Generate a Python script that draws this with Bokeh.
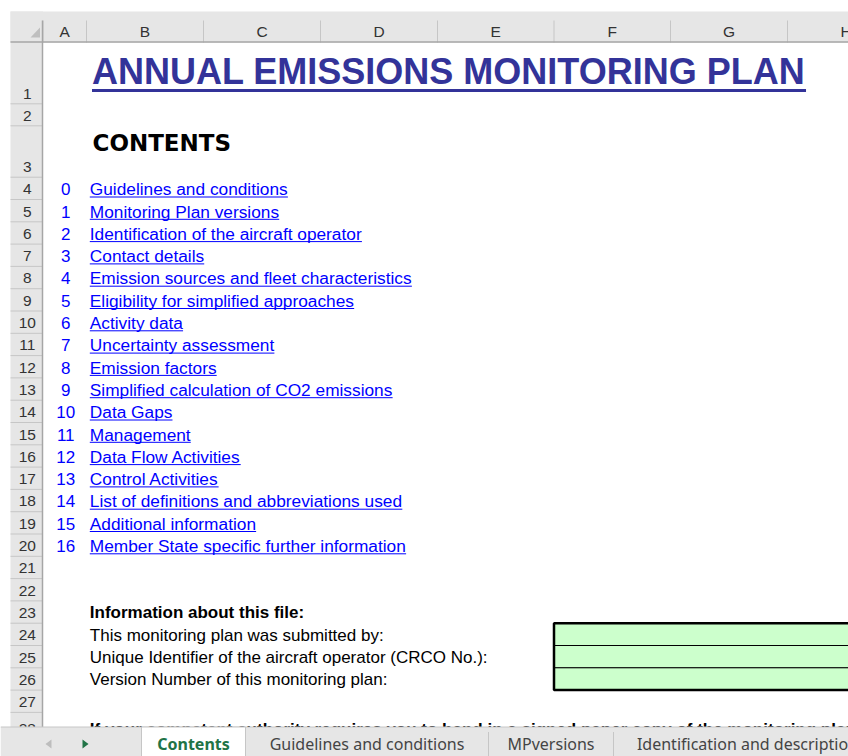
import math
from bokeh.plotting import figure
from bokeh.models import Range1d
from bokeh.embed import file_html
from bokeh.resources import INLINE
from bokeh.core.properties import value

# ---------------- data (sheet content) ----------------
sheet_title = "ANNUAL EMISSIONS MONITORING PLAN"
contents_heading = "CONTENTS"
column_letters = ["A", "B", "C", "D", "E", "F", "G", "H"]
row_numbers = [1, 2, 3, 4, 5, 6, 7, 8, 9, 10, 11, 12, 13, 14,
               15, 16, 17, 18, 19, 20, 21, 22, 23, 24, 25, 26, 27, 28]
section_numbers = ["0", "1", "2", "3", "4", "5", "6", "7", "8",
                   "9", "10", "11", "12", "13", "14", "15", "16"]
section_titles = [
    "Guidelines and conditions",
    "Monitoring Plan versions",
    "Identification of the aircraft operator",
    "Contact details",
    "Emission sources and fleet characteristics",
    "Eligibility for simplified approaches",
    "Activity data",
    "Uncertainty assessment",
    "Emission factors",
    "Simplified calculation of CO2 emissions",
    "Data Gaps",
    "Management",
    "Data Flow Activities",
    "Control Activities",
    "List of definitions and abbreviations used",
    "Additional information",
    "Member State specific further information",
]
info_heading = "Information about this file:"
info_labels = [
    "This monitoring plan was submitted by:",
    "Unique Identifier of the aircraft operator (CRCO No.):",
    "Version Number of this monitoring plan:",
]
signature_note = ("If your competent authority requires you to hand in a signed paper copy "
                  "of the monitoring plan, please use the space below for signature:")
sheet_tabs = ["Contents", "Guidelines and conditions", "MPversions", "Identification and description"]
active_tab = 0

# sheet rows where each block lives
TITLE_ROW = 1
CONTENTS_ROW = 3
FIRST_SECTION_ROW = 4
INFO_HEADING_ROW = 23
INFO_FIRST_ROW = 24
SIGNATURE_ROW = 28
INPUT_COLUMN = 5  # column F (0-based)

# ---------------- layout / style (screen-like units, measured from top-left) ----------------
FIG_W, FIG_H = 848, 756
HDR_LEFT = 10.0
HDR_TOP = 11.0
ROWHDR_RIGHT = 42.5
COLHDR_BOTTOM = 42.0
TAB_TOP = 726.5
col_widths = [43.5, 117, 117, 117, 116.5, 116.5, 117, 117]
row_heights = [61.3, 22.0, 51.4] + [22.3] * 24 + [27.0]
tab_edges = [141, 245, 488, 613, 881]

col_edges = [ROWHDR_RIGHT]
for w in col_widths:
    col_edges.append(col_edges[-1] + w)
row_edges = [COLHDR_BOTTOM]
for h in row_heights:
    row_edges.append(row_edges[-1] + h)


def Y(v):
    """convert a top-down layout coordinate into the plot's upward data coordinate"""
    return FIG_H - v


def Ys(vs):
    return [Y(v) for v in vs]


def row_bottom(r):
    return row_edges[r]


def row_top(r):
    return row_edges[r - 1]


def cell_mid(r):
    # vertical centre of bottom-aligned 17px cell text
    return row_bottom(r) - 10.3


FONT = value("Liberation Sans")
HDR_BG = "#e6e6e6"
HDR_LINE = "#c6c6c6"
HDR_BORDER = "#a6a6a6"
HDR_TEXT = "#333333"
LINK = "#0000ff"
TITLE_COLOR = "#333399"

ARIAL = {' ': 278, '(': 333, ')': 333, '.': 278, ':': 278, ',': 278,
         'A': 667, 'B': 667, 'C': 722, 'D': 722, 'E': 667, 'F': 611, 'G': 778, 'H': 722,
         'I': 278, 'J': 500, 'K': 667, 'L': 556, 'M': 833, 'N': 722, 'O': 778, 'P': 667,
         'Q': 778, 'R': 722, 'S': 667, 'T': 611, 'U': 722, 'V': 667, 'W': 944, 'X': 667,
         'Y': 667, 'Z': 611,
         'a': 556, 'b': 556, 'c': 500, 'd': 556, 'e': 556, 'f': 278, 'g': 556, 'h': 556,
         'i': 222, 'j': 222, 'k': 500, 'l': 222, 'm': 833, 'n': 556, 'o': 556, 'p': 556,
         'q': 556, 'r': 333, 's': 500, 't': 278, 'u': 556, 'v': 500, 'w': 722, 'x': 500,
         'y': 500, 'z': 500}
ARIAL_BOLD = {' ': 278, 'A': 722, 'B': 722, 'C': 722, 'D': 722, 'E': 667, 'F': 611,
              'G': 778, 'H': 722, 'I': 278, 'J': 556, 'K': 722, 'L': 611, 'M': 833,
              'N': 722, 'O': 778, 'P': 667, 'Q': 778, 'R': 722, 'S': 667, 'T': 611,
              'U': 722, 'V': 667, 'W': 944, 'X': 667, 'Y': 667, 'Z': 611}


def text_width(s, size, bold=False):
    table = ARIAL_BOLD if bold else ARIAL
    return sum(table.get(ch, 556) for ch in s) / 1000.0 * size


p = figure(width=FIG_W, height=FIG_H, output_backend="svg", toolbar_location=None,
           x_range=Range1d(0, FIG_W), y_range=Range1d(0, FIG_H),
           min_border=0, outline_line_color=None, background_fill_color="white",
           border_fill_color="white")
p.axis.visible = False
p.grid.visible = False

RIGHT_END = 960
BOTTOM_END = 800

# ---------------- headers ----------------
p.quad(left=[HDR_LEFT], right=[RIGHT_END], top=[Y(HDR_TOP)], bottom=[Y(COLHDR_BOTTOM)],
       fill_color=HDR_BG, line_color=None)
p.quad(left=[HDR_LEFT], right=[ROWHDR_RIGHT], top=[Y(HDR_TOP)], bottom=[Y(BOTTOM_END)],
       fill_color=HDR_BG, line_color=None)

# column header separators and letters
n_cols = len(column_letters)
p.segment(x0=col_edges[:-1], y0=[Y(20)] * n_cols, x1=col_edges[:-1],
          y1=[Y(COLHDR_BOTTOM)] * n_cols, line_color=HDR_LINE, line_width=1)
col_centers = [(col_edges[i] + col_edges[i + 1]) / 2 for i in range(n_cols)]
p.text(x=col_centers, y=[Y(31.3)] * n_cols, text=column_letters,
       text_font=FONT, text_font_size="15.5px", text_color=HDR_TEXT,
       text_align="center", text_baseline="middle")

# row header separators and numbers
n_rows = len(row_numbers)
p.segment(x0=[HDR_LEFT] * n_rows, y0=Ys([row_bottom(r) for r in row_numbers]),
          x1=[ROWHDR_RIGHT] * n_rows, y1=Ys([row_bottom(r) for r in row_numbers]),
          line_color=HDR_LINE, line_width=1)
p.text(x=[(HDR_LEFT + ROWHDR_RIGHT) / 2 + 0.5] * n_rows,
       y=Ys([row_bottom(r) - 10.3 for r in row_numbers]),
       text=[str(r) for r in row_numbers],
       text_font=FONT, text_font_size="15.5px", text_color=HDR_TEXT,
       text_align="center", text_baseline="middle")

# header borders
p.segment(x0=[HDR_LEFT], y0=[Y(COLHDR_BOTTOM - 0.5)], x1=[RIGHT_END], y1=[Y(COLHDR_BOTTOM - 0.5)],
          line_color=HDR_BORDER, line_width=1.5)
p.segment(x0=[ROWHDR_RIGHT - 0.5], y0=[Y(20)], x1=[ROWHDR_RIGHT - 0.5], y1=[Y(BOTTOM_END)],
          line_color=HDR_BORDER, line_width=1.5)
# select-all corner triangle
p.patch(x=[39.5, 39.5, 30.0], y=Ys([27.0, 37.0, 37.0]), fill_color="#bfbfbf", line_color=None)

# ---------------- title ----------------
text_x = col_edges[1] + 3.3
title_size = 36
title_x = col_edges[1] + 5.5
title_mid = row_bottom(TITLE_ROW) - 32.3
p.text(x=[title_x], y=[Y(title_mid)], text=[sheet_title], text_font=FONT,
       text_font_size=f"{title_size}px", text_font_style="bold", text_color=TITLE_COLOR,
       text_baseline="middle")
tw = text_width(sheet_title, title_size, bold=True)
title_line_y = row_bottom(TITLE_ROW) - 13.3
p.segment(x0=[title_x], y0=[Y(title_line_y)], x1=[title_x + tw], y1=[Y(title_line_y)],
          line_color=TITLE_COLOR, line_width=3)

p.text(x=[col_edges[1] + 6], y=[Y(row_bottom(CONTENTS_ROW) - 34.2)], text=[contents_heading],
       text_font=value("DejaVu Sans"), text_font_size="23px", text_font_style="bold",
       text_color="black", text_baseline="middle")

# ---------------- contents list ----------------
LINK_SIZE = 17
sec_rows = [FIRST_SECTION_ROW + i for i in range(len(section_titles))]
sec_mid = [cell_mid(r) for r in sec_rows]
p.text(x=[col_centers[0] + 1] * len(section_numbers), y=Ys(sec_mid), text=section_numbers,
       text_font=FONT, text_font_size=f"{LINK_SIZE}px", text_color=LINK,
       text_align="center", text_baseline="middle")
p.text(x=[text_x] * len(section_titles), y=Ys(sec_mid), text=section_titles,
       text_font=FONT, text_font_size="17.3px", text_color=LINK,
       text_align="left", text_baseline="middle")
ul_y = [row_bottom(r) - 2.5 for r in sec_rows]
p.segment(x0=[text_x] * len(section_titles), y0=Ys(ul_y),
          x1=[text_x + text_width(s, 17.3) for s in section_titles],
          y1=Ys(ul_y), line_color=LINK, line_width=1)

# ---------------- information block ----------------
p.text(x=[text_x], y=[Y(cell_mid(INFO_HEADING_ROW))], text=[info_heading],
       text_font=FONT, text_font_size=f"{LINK_SIZE}px", text_font_style="bold",
       text_color="black", text_baseline="middle")
info_rows = [INFO_FIRST_ROW + i for i in range(len(info_labels))]
p.text(x=[text_x] * len(info_labels), y=Ys([cell_mid(r) for r in info_rows]),
       text=info_labels, text_font=FONT, text_font_size=f"{LINK_SIZE}px",
       text_color="black", text_baseline="middle")
p.quad(left=[col_edges[INPUT_COLUMN]] * len(info_rows), right=[RIGHT_END] * len(info_rows),
       top=Ys([row_top(r) for r in info_rows]), bottom=Ys([row_bottom(r) for r in info_rows]),
       fill_color="#ccffcc", line_color="black", line_width=1)
p.quad(left=[col_edges[INPUT_COLUMN]], right=[RIGHT_END], top=[Y(row_top(info_rows[0]))],
       bottom=[Y(row_bottom(info_rows[-1]))], fill_color=None, line_color="black", line_width=2.5)

p.text(x=[text_x], y=[Y(cell_mid(SIGNATURE_ROW))], text=[signature_note],
       text_font=FONT, text_font_size=f"{LINK_SIZE}px", text_font_style="bold",
       text_color="black", text_baseline="middle")

# ---------------- sheet tab bar ----------------
p.quad(left=[0], right=[RIGHT_END], top=[Y(TAB_TOP)], bottom=[Y(BOTTOM_END)],
       fill_color=HDR_BG, line_color=None)
p.segment(x0=[0], y0=[Y(TAB_TOP)], x1=[RIGHT_END], y1=[Y(TAB_TOP)], line_color=HDR_LINE,
          line_width=1)
p.quad(left=[tab_edges[active_tab]], right=[tab_edges[active_tab + 1]], top=[Y(TAB_TOP)],
       bottom=[Y(BOTTOM_END)], fill_color="white", line_color=HDR_LINE, line_width=1)
sep_x = [e for i, e in enumerate(tab_edges) if i not in (active_tab, active_tab + 1)]
p.segment(x0=sep_x, y0=[Y(TAB_TOP + 5)] * len(sep_x), x1=sep_x, y1=[Y(BOTTOM_END)] * len(sep_x),
          line_color=HDR_LINE, line_width=1)
tab_centers = [(tab_edges[i] + tab_edges[i + 1]) / 2 for i in range(len(sheet_tabs))]
TAB_MID = 743
inactive = [i for i in range(len(sheet_tabs)) if i != active_tab]
p.text(x=[tab_centers[i] for i in inactive], y=[Y(TAB_MID)] * len(inactive),
       text=[sheet_tabs[i] for i in inactive], text_font=value("Noto Sans"),
       text_font_size="16px", text_color="#444444", text_align="center",
       text_baseline="middle")
p.text(x=[tab_centers[active_tab]], y=[Y(TAB_MID)], text=[sheet_tabs[active_tab]],
       text_font=value("Noto Sans"), text_font_size="16px", text_font_style="bold",
       text_color="#217346", text_align="center", text_baseline="middle")
# scroll arrows
ay = 743.5
p.patch(x=[51, 51, 45], y=Ys([ay - 4.5, ay + 4.5, ay]), fill_color="#bdbdbd", line_color=None)
p.patch(x=[82, 82, 88], y=Ys([ay - 4.5, ay + 4.5, ay]), fill_color="#217346", line_color=None)

open("out.html", "w").write(file_html(p, INLINE))
